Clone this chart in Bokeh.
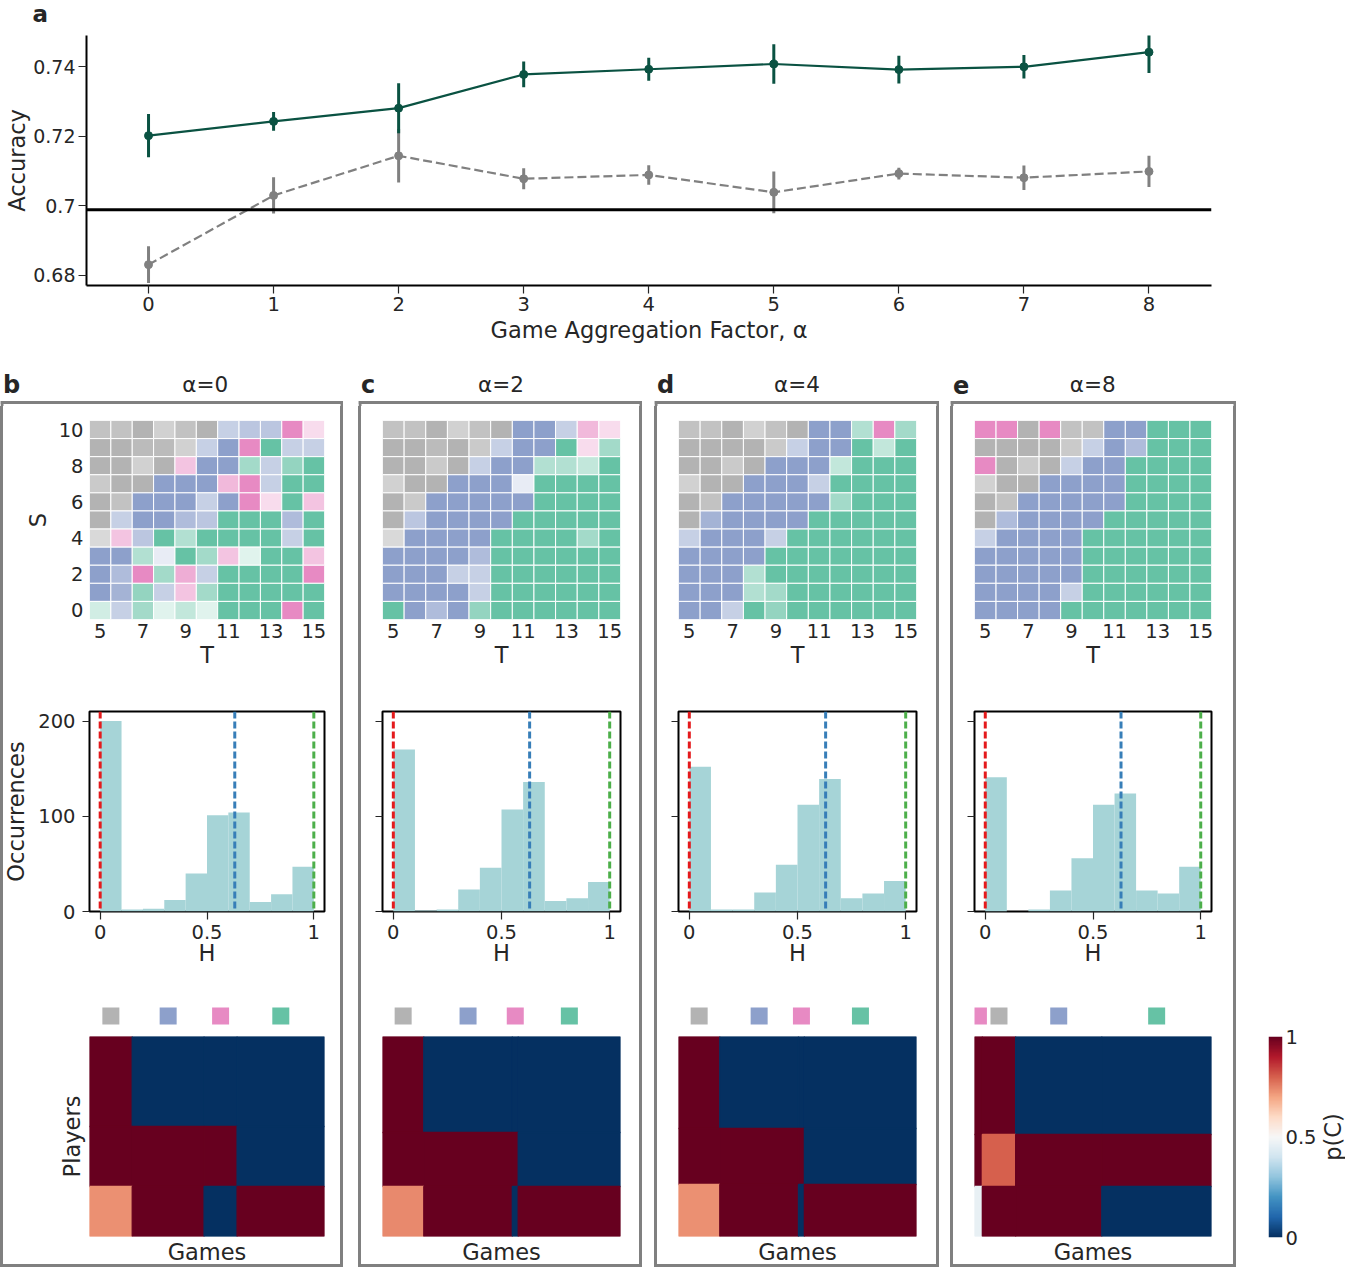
import numpy as np
from bokeh.plotting import figure
from bokeh.layouts import column, row
from bokeh.models import Range1d, FixedTicker, Span, Spacer, LinearColorMapper
from bokeh.core.properties import value
from bokeh.embed import file_html
from bokeh.resources import INLINE

# ---------------- data: panel a ----------------
alpha = [0, 1, 2, 3, 4, 5, 6, 7, 8]
acc_model = [0.7202, 0.7243, 0.7281, 0.7378, 0.7393, 0.7408, 0.7392, 0.7400, 0.7442]
acc_model_err = [0.0062, 0.0027, 0.0072, 0.0037, 0.0033, 0.0057, 0.0040, 0.0034, 0.0060]
acc_base = [0.6831, 0.7030, 0.7144, 0.7078, 0.7089, 0.7039, 0.7093, 0.7081, 0.7099]
acc_base_err = [0.0053, 0.0052, 0.0077, 0.0030, 0.0028, 0.0060, 0.0017, 0.0035, 0.0045]
acc_reference = 0.6989
acc_ticks = [0.68, 0.70, 0.72, 0.74]
acc_tick_labels = ["0.68", "0.7", "0.72", "0.74"]

# ---------------- data: panels b-e ----------------
panel_letters = ["b", "c", "d", "e"]
panel_alphas = [0, 2, 4, 8]
T_values = [5, 6, 7, 8, 9, 10, 11, 12, 13, 14, 15]
S_values = [0, 1, 2, 3, 4, 5, 6, 7, 8, 9, 10]
T_ticks = [5, 7, 9, 11, 13, 15]
S_ticks = [0, 2, 4, 6, 8, 10]

# game cluster per cell (rows S=10 .. S=0, columns T=5 .. 15); K gray, B blue, P pink, G green
clusters_b = ["KKKKKKBBBPP", "KKKKKBBPGBB", "KKKKPBBGBGG", "KKKBBBPPBGG", "KKBBBBBPPGP", "KBBBBBGGGBG",
              "KPBGGGGGGBG", "BBGBGGPGGGP", "BBPGPBGGGGP", "BBGBPGGGGGG", "GBGGGGGGGPG"]
strength_b = ["77957945592", "99885499944", "99594995469", "69999959499", "97999499294", "94996599969",
              "44594999949", "99419541994", "96956499999", "97644599999", "24513199999"]
clusters_c = ["KKKKKKBBBPP", "KKKKKBBBGPG", "KKKKBBBGGGG", "KKKBBBBGGGG", "KKBBBBBGGGG", "KBBBBBGGGGG",
              "KBBBBGGGGGG", "BBBBBGGGGGG", "BBBBBGGGGGG", "BBBBBGGGGGG", "GBBBGGGGGGG"]
strength_c = ["77957999452", "99896499925", "99694994439", "59999919999", "96999999999", "95999999999",
              "49999999959", "99996999999", "99944999999", "99994999999", "99696999999"]
clusters_d = ["KKKKKKBBGPG", "KKKKKBBBGGG", "KKKKBBBGGGG", "KKKBBBBGGGG", "KKBBBBBGGGG", "KBBBBBGGGGG",
              "BBBBBGGGGGG", "BBBBGGGGGGG", "BBBGGGGGGGG", "BBBGGGGGGGG", "BBBGGGGGGGG"]
strength_d = ["77957999495", "99996499939", "99699993999", "59999949999", "97999995999", "97999999999",
              "49994999999", "99999999999", "99949999999", "99945999999", "99496999999"]
clusters_e = ["PPKPKKBBGGG", "KKKKKBBBGGG", "PKKKBBBGGGG", "KKKBBBBGGGG", "KKBBBBBGGGG", "KBBBBBGGGGG",
              "BBBBBGGGGGG", "BBBBBGGGGGG", "BBBBBGGGGGG", "BBBBBGGGGGG", "BBBBGGGGGGG"]
strength_e = ["99997799999", "99996496999", "99694999999", "59999999999", "97999999999", "96999999999",
              "49999999999", "99999999999", "99999999999", "99994999999", "99999999999"]

# histograms of H
H_edges = [0.0, 0.1, 0.2, 0.3, 0.4, 0.5, 0.6, 0.7, 0.8, 0.9, 1.0]
hist_b = [200, 2, 3, 12, 40, 101, 104, 10, 18, 47]
hist_c = [170, 1, 2, 23, 46, 107, 136, 11, 14, 31]
hist_d = [152, 2, 2, 20, 49, 112, 139, 14, 19, 32]
hist_e = [141, 0, 2, 22, 56, 112, 124, 22, 19, 47]
H_lines = [0.0, 0.63, 1.0]
H_line_colors = ["#e41a1c", "#377eb8", "#4daf4a"]
H_ticks = [0, 0.5, 1]
H_tick_labels = ["0", "0.5", "1"]
count_ticks = [0, 100, 200]

# player x game p(C) blocks
order_b, order_c, order_d, order_e = "KBPG", "KBPG", "KBPG", "PKBG"
games_b = [22, 37, 17, 45]
games_c = [21, 45, 3, 52]
games_d = [21, 40, 3, 57]
games_e = [4, 17, 44, 56]
players_b = [45, 30, 25]
players_c = [48, 27, 25]
players_d = [46, 28, 26]
players_e = [49, 26, 25]
pc_b = [[1, 0, 0, 0], [1, 1, 1, 0], [0.73, 1, 0, 1]]
pc_c = [[1, 0, 0, 0], [1, 1, 1, 0], [0.74, 1, 0, 1]]
pc_d = [[1, 0, 0, 0], [1, 1, 1, 0], [0.73, 1, 0, 1]]
pc_e = [[1, 1, 0, 0], [1, 0.8, 1, 1], [0.46, 1, 1, 0]]
cbar_ticks = [0, 0.5, 1]
cbar_tick_labels = ["0", "0.5", "1"]

panels = [
    dict(letter=panel_letters[0], a=panel_alphas[0], cl=clusters_b, st=strength_b, hist=hist_b, order=order_b,
         games=games_b, players=players_b, pc=pc_b),
    dict(letter=panel_letters[1], a=panel_alphas[1], cl=clusters_c, st=strength_c, hist=hist_c, order=order_c,
         games=games_c, players=players_c, pc=pc_c),
    dict(letter=panel_letters[2], a=panel_alphas[2], cl=clusters_d, st=strength_d, hist=hist_d, order=order_d,
         games=games_d, players=players_d, pc=pc_d),
    dict(letter=panel_letters[3], a=panel_alphas[3], cl=clusters_e, st=strength_e, hist=hist_e, order=order_e,
         games=games_e, players=players_e, pc=pc_e),
]

# ---------------- styling helpers ----------------
def R(v):
    return int(round(v))


FONT = "DejaVu Sans"
TXT = "#262626"
TICK_FS = "19.5px"
LAB_FS = "22.5px"
TITLE_PX, LETTER_PX = 21.5, 24.0
MID = 0.346  # baseline -> middle offset (em) for DejaVu Sans
GREEN = "#0a5242"
GRAY = "#808080"
BOXC = "#808080"
HIST_COLOR = "#a6d4d7"
CLUSTER_COLORS = {"K": "#b3b3b3", "B": "#8da0cb", "P": "#e78ac3", "G": "#66c2a5"}
RDBU_R = ["#053061", "#2166ac", "#4393c3", "#92c5de", "#d1e5f0", "#f7f7f7",
          "#fddbc7", "#f4a582", "#d6604d", "#b2182b", "#67001f"]


def h2rgb(h):
    return np.array([int(h[i:i + 2], 16) for i in (1, 3, 5)], float)


def hexcol(rgb):
    return "#%02x%02x%02x" % tuple(int(round(c)) for c in rgb)


def cell_color(code, digit):
    base = h2rgb(CLUSTER_COLORS[code])
    s = (int(digit) + 1) / 10.0
    return hexcol(255 - (255 - base) * s)


_anchor = np.linspace(0, 1, len(RDBU_R))
_rgb = np.array([h2rgb(h) for h in RDBU_R])


def rdbu(v):
    return hexcol([np.interp(v, _anchor, _rgb[:, i]) for i in range(3)])


def base_fig(w, h, xr, yr, ml=0, mr=0, mt=0, mb=0, **kw):
    p = figure(width=w, height=h, x_range=xr, y_range=yr, output_backend="svg",
               toolbar_location=None, title=None, min_border_left=ml, min_border_right=mr,
               min_border_top=mt, min_border_bottom=mb, **kw)
    p.border_fill_color = None
    p.background_fill_color = None
    p.outline_line_color = None
    p.grid.visible = False
    return p


def style_axis(ax, label_standoff, tick_out=0, pad=5, line=None, line_w=1, tick_fs=TICK_FS):
    ax.major_label_text_font = FONT
    ax.major_label_text_font_size = tick_fs
    ax.major_label_text_color = TXT
    ax.axis_label_text_font = FONT
    ax.axis_label_text_font_size = LAB_FS
    ax.axis_label_text_font_style = "normal"
    ax.axis_label_text_color = TXT
    ax.axis_label_standoff = label_standoff
    ax.major_label_standoff = pad
    ax.minor_tick_line_color = None
    ax.major_tick_out = tick_out
    ax.major_tick_in = 0
    ax.major_tick_line_color = TXT if tick_out else None
    ax.major_tick_line_width = 1.2
    ax.axis_line_color = line
    ax.axis_line_width = line_w


W_ALL = 1345

# ---------------- panel a ----------------
Y_A_HEAD = 26
ha = base_fig(W_ALL, Y_A_HEAD, Range1d(0, W_ALL), Range1d(Y_A_HEAD, 0),
              x_axis_location=None, y_axis_location=None)
ha.text(x=[32], y=[21 - MID * 23], text=["a"], text_font=value(FONT), text_font_style="bold",
        text_font_size="23px", text_color=TXT, text_baseline="middle", text_align="left")

XA0, XA1 = -0.496, 8.5
YA0, YA1 = 0.6771, 0.749
fa = base_fig(W_ALL, R(362) - Y_A_HEAD, Range1d(XA0, XA1), Range1d(YA0, YA1),
              ml=R(85.6), mr=W_ALL - R(1211), mt=R(34.7) - Y_A_HEAD, mb=R(362) - R(285))
fa.xaxis.ticker = FixedTicker(ticks=alpha)
fa.yaxis.ticker = FixedTicker(ticks=acc_ticks)
fa.yaxis.major_label_overrides = dict(zip(acc_ticks, acc_tick_labels))
fa.xaxis.axis_label = "Game Aggregation Factor, α"
fa.yaxis.axis_label = "Accuracy"
style_axis(fa.xaxis[0], 3, tick_out=8, pad=3, line="black", line_w=2)
style_axis(fa.yaxis[0], 0, tick_out=8, pad=3, line="black", line_w=2, tick_fs="19px")

fa.add_layout(Span(location=acc_reference, dimension="width", line_color="black", line_width=3))
b_lo = [m - e for m, e in zip(acc_base, acc_base_err)]
b_hi = [m + e for m, e in zip(acc_base, acc_base_err)]
m_lo = [m - e for m, e in zip(acc_model, acc_model_err)]
m_hi = [m + e for m, e in zip(acc_model, acc_model_err)]
fa.line(alpha, acc_base, line_color=GRAY, line_width=2.2, line_dash="9 4")
fa.segment(alpha, b_lo, alpha, b_hi, line_color=GRAY, line_width=3)
fa.scatter(alpha, acc_base, size=8, fill_color=GRAY, line_color=GRAY)
fa.line(alpha, acc_model, line_color=GREEN, line_width=2.2)
fa.segment(alpha, m_lo, alpha, m_hi, line_color=GREEN, line_width=3)
fa.scatter(alpha, acc_model, size=8, fill_color=GREEN, line_color=GREEN)

# ---------------- panels b-e ----------------
BOX_X = [(0, 343), (358, 642), (654, 939), (950, 1236)]
FRAME_X = [(86, 323.5), (381.5, 619.5), (677.5, 915.5), (973.5, 1211)]
Y_ROW, Y_BOXLINE, Y_HEAD_END, Y_END = 362, 400.5, 406, 1267
BW = 3
H_LOW = R(Y_END) - R(Y_ROW)

panel_cols = []
for i, pnl in enumerate(panels):
    bx0, bx1 = BOX_X[i]
    fx0, fx1 = FRAME_X[i]
    w = R(bx1) - R(bx0)
    ml = R(fx0) - R(bx0)
    mr = R(bx1) - R(fx1)

    # header: panel letter, title and top edge of the panel box
    hd = base_fig(w, R(Y_HEAD_END) - R(Y_ROW), Range1d(bx0, bx1), Range1d(Y_HEAD_END, Y_ROW),
                  x_axis_location=None, y_axis_location=None)
    hd.quad(left=[bx0, bx0, bx1 - BW], right=[bx1, bx0 + BW, bx1],
            top=[Y_BOXLINE, Y_BOXLINE, Y_BOXLINE], bottom=[Y_BOXLINE + BW, Y_HEAD_END, Y_HEAD_END],
            fill_color=BOXC, line_color=None)
    hd.text(x=[bx0 + 2.5], y=[393.3 - MID * LETTER_PX], text=[pnl["letter"]], text_font=value(FONT),
            text_font_style="bold", text_font_size="%gpx" % LETTER_PX, text_color=TXT,
            text_baseline="middle", text_align="left")
    hd.text(x=[(fx0 + fx1) / 2], y=[391 - MID * TITLE_PX], text=["α=%d" % pnl["a"]], text_font=value(FONT),
            text_font_size="%gpx" % TITLE_PX, text_color=TXT, text_baseline="middle", text_align="center")

    # T-S game cluster map
    hm = base_fig(w, R(690) - R(Y_HEAD_END), Range1d(4.5, 15.5), Range1d(-0.5, 10.5),
                  ml, mr, R(420) - R(Y_HEAD_END), R(690) - R(619),
                  y_axis_location="left" if i == 0 else None)
    xs, ys, cols = [], [], []
    nrow = len(S_values)
    for r, (crow, srow) in enumerate(zip(pnl["cl"], pnl["st"])):
        for c, (cc, ss) in enumerate(zip(crow, srow)):
            xs.append(T_values[c])
            ys.append(S_values[nrow - 1 - r])
            cols.append(cell_color(cc, ss))
    hm.rect(x=xs, y=ys, width=1, height=1, fill_color=cols, line_color="white", line_width=1)
    hm.xaxis.ticker = FixedTicker(ticks=T_ticks)
    hm.xaxis.axis_label = "T"
    style_axis(hm.xaxis[0], 1, tick_out=0, pad=4)
    if i == 0:
        hm.yaxis.ticker = FixedTicker(ticks=S_ticks)
        hm.yaxis.axis_label = "S"
        style_axis(hm.yaxis[0], 5, tick_out=0, pad=6)

    # histogram of H
    hs = base_fig(w, R(990) - R(690), Range1d(-0.05, 1.05), Range1d(0, 210),
                  ml, mr, R(711) - R(690), R(990) - R(911))
    hs.outline_line_color = "black"
    hs.outline_line_width = 2
    hs.quad(left=H_edges[:-1], right=H_edges[1:], bottom=0, top=pnl["hist"],
            fill_color=HIST_COLOR, line_color=None)
    for loc, col in zip(H_lines, H_line_colors):
        hs.add_layout(Span(location=loc, dimension="height", line_color=col, line_width=3, line_dash="7 3"))
    hs.xaxis.ticker = FixedTicker(ticks=H_ticks)
    hs.xaxis.major_label_overrides = dict(zip(H_ticks, H_tick_labels))
    hs.xaxis.axis_label = "H"
    style_axis(hs.xaxis[0], -2, tick_out=8, pad=5)
    hs.yaxis.ticker = FixedTicker(ticks=count_ticks)
    if i == 0:
        hs.yaxis.axis_label = "Occurrences"
        style_axis(hs.yaxis[0], 6, tick_out=7, pad=7)
    else:
        hs.yaxis.major_label_overrides = {t: "" for t in count_ticks}
        style_axis(hs.yaxis[0], 0, tick_out=7, pad=0)

    # cluster markers + player x game matrix
    n_games = sum(pnl["games"])
    games_x = Range1d(0, n_games)
    cum = np.concatenate([[0], np.cumsum(pnl["games"])])
    centers = (cum[:-1] + cum[1:]) / 2.0
    mk = base_fig(w, R(1036) - R(990), games_x, Range1d(0, 1), ml, mr, R(1000) - R(990), R(1036) - R(1031),
                  x_axis_location=None, y_axis_location=None)
    mk.scatter(x=list(centers), y=[0.5] * len(centers), marker="square", size=17,
               fill_color=[CLUSTER_COLORS[c] for c in pnl["order"]], line_color=None)

    n_pl = sum(pnl["players"])
    pcum = np.concatenate([[0], np.cumsum(pnl["players"])])
    bt = base_fig(w, R(Y_END) - R(1036), games_x, Range1d(0, n_pl), ml, mr, 0, R(Y_END) - R(1237),
                  y_axis_location="left" if i == 0 else None)
    L, Rr, T, B, C = [], [], [], [], []
    for t in range(len(pnl["players"])):
        for j in range(len(pnl["games"])):
            L.append(cum[j]); Rr.append(cum[j + 1])
            T.append(n_pl - pcum[t]); B.append(n_pl - pcum[t + 1])
            C.append(rdbu(pnl["pc"][t][j]))
    bt.quad(left=L, right=Rr, top=T, bottom=B, fill_color=C, line_color=C, line_width=1.3)
    bt.xaxis.ticker = FixedTicker(ticks=[])
    bt.xaxis.axis_label = "Games"
    style_axis(bt.xaxis[0], 2, tick_out=0, pad=0)
    if i == 0:
        bt.yaxis.ticker = FixedTicker(ticks=[])
        bt.yaxis.axis_label = "Players"
        style_axis(bt.yaxis[0], 5, tick_out=0, pad=0)

    shadow = ("inset %dpx 0 0 0 %s, inset -%dpx 0 0 0 %s, inset 0 -%dpx 0 0 %s"
              % (BW, BOXC, BW, BOXC, BW, BOXC))
    box = column(hm, hs, mk, bt, styles={"box-shadow": shadow})
    panel_cols.append(column(hd, box))

# ---------------- colorbar ----------------
CB_X0, CB_X1, PC_X1 = 1236, 1319, 1345
CB_MT, CB_MB = R(1036) - R(Y_ROW), R(Y_END) - R(1237)
cb = base_fig(R(CB_X1) - R(CB_X0), H_LOW, Range1d(0, 1), Range1d(0, 1),
              ml=R(1268) - R(CB_X0), mr=R(CB_X1) - R(1285), mt=CB_MT, mb=CB_MB,
              x_axis_location=None, y_axis_location="right")
grad_vals = np.linspace(0, 1, 256)
mapper = LinearColorMapper(palette=[rdbu(v) for v in grad_vals], low=0, high=1)
cb.image(image=[grad_vals.reshape(256, 1)], x=0, y=0, dw=1, dh=1, color_mapper=mapper)
cb.yaxis.ticker = FixedTicker(ticks=cbar_ticks)
cb.yaxis.major_label_overrides = dict(zip(cbar_ticks, cbar_tick_labels))
style_axis(cb.yaxis[0], 0, tick_out=0, pad=3)

pcf = base_fig(R(PC_X1) - R(CB_X1), H_LOW, Range1d(CB_X1, PC_X1), Range1d(0, 1),
               mt=CB_MT, mb=CB_MB, x_axis_location=None, y_axis_location=None)
pcf.text(x=[(CB_X1 + PC_X1) / 2], y=[0.5], text=["p(C)"], angle=np.pi / 2,
         text_font=value(FONT), text_font_size=LAB_FS, text_color=TXT,
         text_align="center", text_baseline="middle")

lower = row(panel_cols[0], Spacer(width=R(358) - R(343), height=H_LOW),
            panel_cols[1], Spacer(width=R(654) - R(642), height=H_LOW),
            panel_cols[2], Spacer(width=R(950) - R(939), height=H_LOW),
            panel_cols[3], cb, pcf)
root = column(row(ha), fa, lower)

open("out.html", "w").write(file_html(root, INLINE, title="Game aggregation"))
